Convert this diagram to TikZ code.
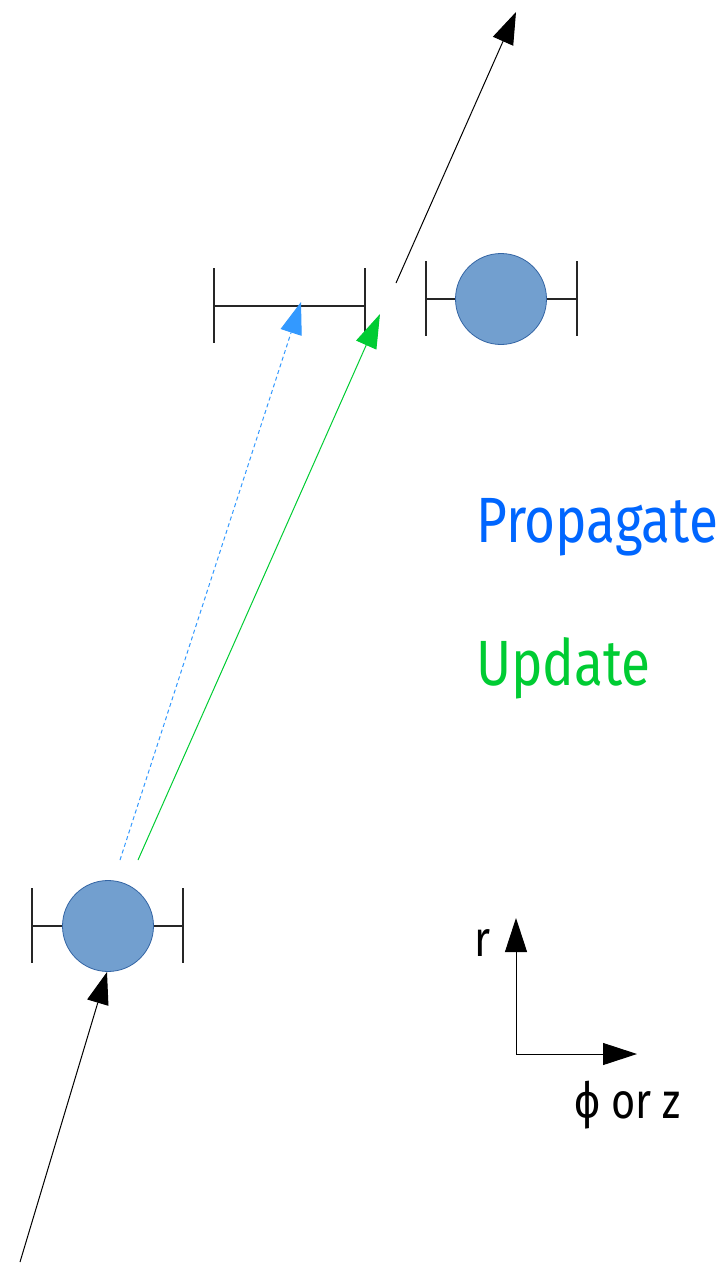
\documentclass[tikz,border=0pt]{standalone}
\usepackage{fontspec}
\setmainfont{Fira Sans}
\newfontfamily\labelfont[FakeStretch=0.83]{Fira Sans}
\usetikzlibrary{arrows.meta}
\definecolor{hitfill}{RGB}{114,159,207}
\definecolor{hitedge}{RGB}{52,101,164}
\definecolor{propblue}{RGB}{51,153,255}
\definecolor{proptext}{RGB}{0,102,255}
\definecolor{updgreen}{RGB}{0,204,51}
\tikzset{
  hit/.style={circle,draw=hitedge,line width=0.8pt,fill=hitfill,minimum size=91pt,inner sep=0pt},
  bar/.style={draw=black!85,line width=1.4pt},
  track/.style={draw=black,line width=1pt,-{Triangle[length=32pt,width=22pt]}},
  propline/.style={draw=propblue,line width=1pt,dash pattern=on 4pt off 3pt,-{Triangle[length=32pt,width=22pt,fill=propblue]}},
  updline/.style={draw=updgreen,line width=1pt,-{Triangle[length=34pt,width=22pt,fill=updgreen]}},
  axis/.style={draw=black,line width=1pt,-{Triangle[length=34pt,width=22pt]}},
  lbl/.style={font=\labelfont\fontsize{64}{64}\selectfont,anchor=base west,inner sep=0pt}
}
\begin{document}
\begin{tikzpicture}[x=1pt,y=-1pt]
\useasboundingbox (0,0) rectangle (721,1263);

% lower measurement: hit with error bar
\node[hit] (hitA) at (108,926) {};
\coordinate (aL) at (32,926);
\coordinate (aR) at (183,926);
\draw[bar] (32,888) -- (32,963);
\draw[bar] (183,888) -- (183,963);
\draw[bar] (aL) -- (hitA.west);
\draw[bar] (hitA.east) -- (aR);

% upper measurement: hit with error bar
\node[hit] (hitB) at (501,299) {};
\coordinate (bL) at (426,299);
\coordinate (bR) at (577,299);
\draw[bar] (426,261) -- (426,336);
\draw[bar] (577,261) -- (577,336);
\draw[bar] (bL) -- (hitB.west);
\draw[bar] (hitB.east) -- (bR);

% predicted window on the upper layer
\coordinate (wL) at (214,306);
\coordinate (wR) at (365,306);
\draw[bar] (214,268) -- (214,343);
\draw[bar] (365,268) -- (365,343);
\draw[bar] (wL) -- (wR);

% incoming and outgoing track
\coordinate (trackIn) at (20,1262);
\coordinate (trackInTip) at (107,972);
\draw[track] (trackIn) -- (trackInTip);
\coordinate (trackOut) at (396,283);
\coordinate (trackOutTip) at (516,12);
\draw[track] (trackOut) -- (trackOutTip);

% propagation and update steps
\coordinate (propStart) at (120,860);
\coordinate (propEnd) at (301,302);
\draw[propline] (propStart) -- (propEnd);
\coordinate (updStart) at (138,860);
\coordinate (updEnd) at (380,314);
\draw[updline] (updStart) -- (updEnd);

% legend
\node[lbl,text=proptext] (propLbl) at (476,542) {Propagate};
\node[lbl,text=updgreen] (updLbl) at (476,685) {Update};

% coordinate axes
\coordinate (origin) at (516,1054);
\coordinate (rTip) at (516,918);
\coordinate (pTip) at (637,1054);
\draw[axis] (origin) -- (rTip);
\draw[axis] (origin) -- (pTip);
\node[lbl,font=\labelfont\fontsize{50}{50}\selectfont] (rLbl) at (474,956) {r};
\node[lbl,font=\labelfont\fontsize{50}{50}\selectfont] (pLbl) at (574,1118) {ϕ or z};
\end{tikzpicture}
\end{document}
